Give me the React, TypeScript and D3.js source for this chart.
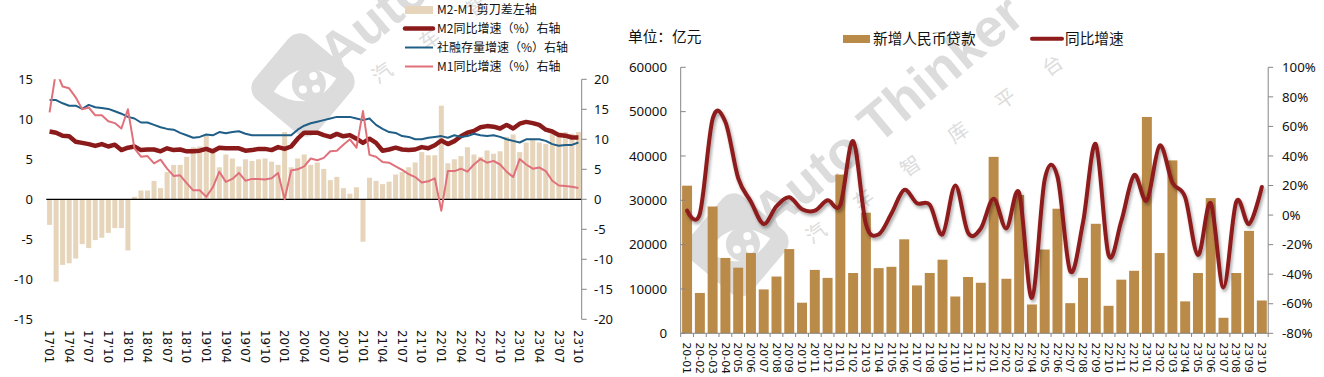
import React, { useEffect } from 'react';
import * as d3 from 'd3';

// ---------- Left chart data ----------
const leftCats = [
  "17'01","17'02","17'03","17'04","17'05","17'06","17'07","17'08","17'09","17'10","17'11","17'12",
  "18'01","18'02","18'03","18'04","18'05","18'06","18'07","18'08","18'09","18'10","18'11","18'12",
  "19'01","19'02","19'03","19'04","19'05","19'06","19'07","19'08","19'09","19'10","19'11","19'12",
  "20'01","20'02","20'03","20'04","20'05","20'06","20'07","20'08","20'09","20'10","20'11","20'12",
  "21'01","21'02","21'03","21'04","21'05","21'06","21'07","21'08","21'09","21'10","21'11","21'12",
  "22'01","22'02","22'03","22'04","22'05","22'06","22'07","22'08","22'09","22'10","22'11","22'12",
  "23'01","23'02","23'03","23'04","23'05","23'06","23'07","23'08","23'09","23'10"
];
const leftTickLabels = [
  "17'01","17'04","17'07","17'10","18'01","18'04","18'07","18'10","19'01","19'04","19'07","19'10",
  "20'01","20'04","20'07","20'10","21'01","21'04","21'07","21'10","22'01","22'04","22'07","22'10",
  "23'01","23'04","23'07","23'10"
];
// M2-M1 scissor (left axis)
const scissor = [
  -3.2,-10.3,-8.2,-8.0,-7.4,-5.6,-6.1,-5.1,-4.8,-4.2,-3.6,-3.6,
  -6.4,0.3,1.1,1.1,2.3,1.4,3.4,4.3,4.3,5.3,6.5,6.6,
  8.0,6.0,4.0,5.6,5.1,4.1,5.0,4.8,5.0,5.1,4.7,4.3,
  8.4,4.0,5.1,5.6,4.3,4.6,3.8,2.4,2.8,1.4,0.7,1.5,
  -5.3,2.7,2.3,1.9,2.2,3.1,3.4,4.0,4.6,5.9,5.5,5.5,
  11.7,4.5,5.0,5.4,6.5,5.6,5.3,6.1,5.7,6.0,7.8,8.1,
  5.9,7.1,7.6,7.1,6.9,8.2,8.4,8.4,8.2,8.4
];
// M2 yoy (right axis)
const m2Yoy = [
  11.3,11.1,10.6,10.5,9.6,9.4,9.2,8.9,9.2,8.8,9.1,8.2,
  8.6,8.8,8.2,8.3,8.3,8.0,8.5,8.2,8.3,8.0,8.0,8.1,
  8.4,8.0,8.6,8.5,8.5,8.5,8.1,8.2,8.4,8.4,8.2,8.7,
  8.4,8.8,10.1,11.1,11.1,11.1,10.7,10.4,10.9,10.5,10.7,10.1,
  9.4,10.1,9.4,8.1,8.3,8.6,8.3,8.2,8.3,8.7,8.5,9.0,
  9.8,9.2,9.7,10.5,11.1,11.4,12.0,12.2,12.1,11.8,12.4,11.8,
  12.6,12.9,12.7,12.4,11.6,11.3,10.7,10.6,10.3,10.3
];
// Social financing stock growth (drawn against the left scale as in the picture)
const tsfYoy = [
  12.4,12.4,12.0,11.7,11.7,11.3,11.8,11.5,11.4,11.3,11.0,10.7,
  10.3,10.1,9.6,9.6,9.3,9.0,8.8,8.7,8.3,8.0,7.7,7.8,
  8.1,8.0,8.4,8.25,8.4,8.5,8.2,8.0,8.0,8.0,8.0,8.0,
  8.0,8.0,8.7,9.2,9.5,9.7,9.9,10.1,10.3,10.3,10.3,10.1,
  9.9,10.1,9.3,8.8,8.4,8.3,7.9,7.8,7.5,7.5,7.7,7.8,
  7.9,7.7,8.0,7.8,7.9,8.2,8.0,7.9,8.0,7.8,7.5,7.3,
  7.1,7.5,7.5,7.5,7.3,6.9,6.7,6.8,6.8,7.1
];
// M1 yoy (right axis)
const m1Yoy = [
  14.5,21.4,18.8,18.5,17.0,15.0,15.3,14.0,14.0,13.0,12.7,11.8,
  15.0,8.5,7.1,7.2,6.0,6.6,5.1,3.9,4.0,2.7,1.5,1.5,
  0.4,2.0,4.6,2.9,3.4,4.4,3.1,3.4,3.4,3.3,3.5,4.4,
  0.0,4.8,5.0,5.5,6.8,6.5,6.9,8.0,8.1,9.1,10.0,8.6,
  14.7,7.4,7.1,6.2,6.1,5.5,4.9,4.2,3.7,2.8,3.0,3.5,
  -1.9,4.7,4.7,5.1,4.6,5.8,6.7,6.1,6.4,5.8,4.6,3.7,
  6.7,5.8,5.1,5.3,4.7,3.1,2.3,2.2,2.1,1.9
];
const leftAxisTicks = [15, 10, 5, 0, -5, -10, -15];
const rightAxisTicks = [20, 15, 10, 5, 0, -5, -10, -15, -20];
const leftLegend = ["M2-M1 剪刀差左轴", "M2同比增速（%）右轴", "社融存量增速（%）右轴", "M1同比增速（%）右轴"];

// ---------- Right chart data ----------
const loanCats = [
  "20-01","20-02","20-03","20-04","20'05","20'06","20'07","20'08","20'09","20'10","20'11","20'12",
  "21'01","21'02","21'03","21'04","21'05","21'06","21'07","21'08","21'09","21'10","21'11","21'12",
  "22'01","22'02","22'03","22'04","22'05","22'06","22'07","22'08","22'09","22'10","22'11","22'12",
  "23'01","23'02","23'03","23'04","23'05","23'06","23'07","23'08","23'09","23'10"
];
const newLoans = [
  33300, 9100, 28600, 17000, 14800, 18100, 9900, 12800, 19000, 6900, 14300, 12500,
  35800, 13600, 27200, 14700, 15000, 21200, 10800, 13600, 16600, 8300, 12700, 11400,
  39800, 12300, 31200, 6500, 18900, 28100, 6800, 12500, 24700, 6200, 12100, 14100,
  48800, 18100, 39000, 7200, 13600, 30500, 3500, 13600, 23100, 7400
];
const loanGrowth = [
  3, 1, 65, 63, 25, 9, -6, 6, 12, 4, 3, 10,
  7, 50, -6, -13, 1, 17, 8, 7, -13, 20, -12, -9,
  11, -9, 15, -56, 24, 26, -38, -5, 48, -27, -4, 27,
  10, 47, 22, 12, -27, 8, -49, 9, -6, 19
];
const loanTicks = [0, 10000, 20000, 30000, 40000, 50000, 60000];
const growthTicks = [-80, -60, -40, -20, 0, 20, 40, 60, 80, 100];

const NUM_FONT = "'Noto Sans', 'Noto Sans CJK SC', sans-serif";
const LABEL_FONT = "'DejaVu Sans', 'Noto Sans', sans-serif";
const CJK_FONT = "'Noto Sans CJK SC', 'Noto Sans', sans-serif";

const C_BAR_L = '#E6D5BA';
const C_M2 = '#8B1A1A';
const C_TSF = '#1F5E86';
const C_M1 = '#E0717B';
const C_BAR_R = '#BA8A48';
const C_LINE_R = '#8E1C1C';
const C_AXIS = '#868686';

function Watermark({ dx, dy }: { dx: number; dy: number }) {
  const cx = 737, cy = 245;
  return (
    <g transform={`translate(${dx},${dy})`} fill="#dcdcdc">
      <g transform={`translate(${cx},${cy}) rotate(40)`}>
        <rect x={-41} y={-41} width={82} height={82} rx={15} />
      </g>
      <g transform={`translate(${cx + 2},${cy}) rotate(-12)`}>
        <path d="M -32 0 Q 0 -32 32 0 Q 0 32 -32 0 Z" fill="#ffffff" />
        <circle cx={4} cy={0} r={17} fill="#dcdcdc" />
        <circle cx={-3} cy={4} r={4} fill="#ffffff" />
        <circle cx={10} cy={-7} r={4} fill="#ffffff" />
        <circle cx={10} cy={6} r={4} fill="#ffffff" />
      </g>
      <text transform="translate(772,234) rotate(-40)" fontSize={54} fontWeight="bold"
        fontFamily="'Liberation Sans', Arial, sans-serif">Auto Thinker</text>
      <text transform="translate(816,233) rotate(-35.3)" x={-10} y={7} fontSize={20}
        fontFamily={CJK_FONT} letterSpacing={38}>汽车智库平台</text>
    </g>
  );
}

export default function App() {
  useEffect(() => {
    document.body.style.margin = '0';
  }, []);

  // ----- left chart scales -----
  const lx = d3.scaleBand<string>().domain(leftCats).range([46.3, 581.7]).paddingInner(0.23).paddingOuter(0.115);
  const lyL = d3.scaleLinear().domain([-15, 15]).range([319.3, 79.3]);
  const lyR = d3.scaleLinear().domain([-20, 20]).range([319.3, 79.3]);
  const lcx = (i: number) => (lx(leftCats[i]) as number) + lx.bandwidth() / 2;

  const lineR = d3.line<number>().x((_, i) => lcx(i)).y((d) => lyR(d));
  const lineL = d3.line<number>().x((_, i) => lcx(i)).y((d) => lyL(d));

  // ----- right chart scales -----
  const rx = d3.scaleBand<string>().domain(loanCats).range([680.7, 1268.2]).paddingInner(0.22).paddingOuter(0.11);
  const ryL = d3.scaleLinear().domain([0, 60000]).range([333.3, 67.3]);
  const ryR = d3.scaleLinear().domain([-80, 100]).range([333.3, 67.3]);
  const rcx = (i: number) => (rx(loanCats[i]) as number) + rx.bandwidth() / 2;
  const growthLine = d3.line<number>().x((_, i) => rcx(i)).y((d) => ryR(d)).curve(d3.curveCardinal.tension(0));

  const leftLegendY = [10, 28.5, 47.5, 66.5];

  return (
    <svg width={1324} height={377} style={{ position: 'absolute', left: 0, top: 0, background: '#fff' }}>
      <defs>
        <clipPath id="leftClip">
          <rect x={40} y={79.3} width={545} height={240} />
        </clipPath>
        <filter id="lineShadow" x="-5%" y="-10%" width="110%" height="130%">
          <feDropShadow dx={1.5} dy={2.5} stdDeviation={1.6} floodColor="#000" floodOpacity={0.35} />
        </filter>
      </defs>

      <Watermark dx={-434} dy={-160} />
      <Watermark dx={0} dy={0} />

      {/* ================= LEFT CHART ================= */}
      {scissor.map((v, i) => (
        <rect key={'sb' + i} x={lx(leftCats[i])} width={lx.bandwidth()}
          y={Math.min(lyL(v), lyL(0))} height={Math.abs(lyL(v) - lyL(0))} fill={C_BAR_L} />
      ))}
      <line x1={46.3} x2={581.7} y1={lyL(0)} y2={lyL(0)} stroke="#000" strokeWidth={1.3} />

      <g clipPath="url(#leftClip)">
        <path d={lineR(m2Yoy) || ''} fill="none" stroke={C_M2} strokeWidth={4.5} strokeLinejoin="round" />
        <path d={lineL(tsfYoy) || ''} fill="none" stroke={C_TSF} strokeWidth={2} strokeLinejoin="round" />
        <path d={lineR(m1Yoy) || ''} fill="none" stroke={C_M1} strokeWidth={2} strokeLinejoin="round" />
      </g>

      {/* left axis labels */}
      {leftAxisTicks.map((t) => (
        <text key={'lt' + t} x={33} y={lyL(t)} dy="0.35em" textAnchor="end" fontSize={13}
          fontFamily={NUM_FONT} fill="#111">{t}</text>
      ))}
      {/* right axis */}
      <line x1={581.7} x2={581.7} y1={79.3} y2={319.3} stroke={C_AXIS} strokeWidth={1} />
      {rightAxisTicks.map((t) => (
        <g key={'rt' + t}>
          <line x1={581.7} x2={586.7} y1={lyR(t)} y2={lyR(t)} stroke={C_AXIS} strokeWidth={1} />
          <text x={594} y={lyR(t)} dy="0.35em" fontSize={13} fontFamily={NUM_FONT} fill="#111">{t}</text>
        </g>
      ))}
      {/* x labels */}
      {leftTickLabels.map((c) => {
        const x = (lx(c) as number) + lx.bandwidth() / 2;
        return (
          <text key={'lx' + c} transform={`translate(${x},330) rotate(90)`} dy="0.36em" fontSize={11.8}
            fontFamily={LABEL_FONT} fill="#111">{c}</text>
        );
      })}
      {/* legend */}
      <rect x={405} y={6} width={28} height={8} fill={C_BAR_L} />
      <line x1={405} x2={433} y1={leftLegendY[1]} y2={leftLegendY[1]} stroke={C_M2} strokeWidth={4.5} strokeLinecap="round" />
      <line x1={405} x2={433} y1={leftLegendY[2]} y2={leftLegendY[2]} stroke={C_TSF} strokeWidth={2} />
      <line x1={405} x2={433} y1={leftLegendY[3]} y2={leftLegendY[3]} stroke={C_M1} strokeWidth={2} />
      {leftLegend.map((s, i) => (
        <text key={'lg' + i} x={437} y={leftLegendY[i]} dy="0.35em" fontSize={12} fontFamily={CJK_FONT} fill="#111">{s}</text>
      ))}

      {/* ================= RIGHT CHART ================= */}
      <text x={628} y={37} dy="0.35em" fontSize={14.67} fontFamily={CJK_FONT} fill="#111">单位：亿元</text>
      <rect x={843} y={35} width={27} height={8} fill={C_BAR_R} />
      <text x={873} y={39} dy="0.35em" fontSize={14.67} fontFamily={CJK_FONT} fill="#111">新增人民币贷款</text>
      <line x1={1032} x2={1062} y1={38.7} y2={38.7} stroke={C_LINE_R} strokeWidth={4} strokeLinecap="round" />
      <text x={1065} y={39} dy="0.35em" fontSize={14.67} fontFamily={CJK_FONT} fill="#111">同比增速</text>

      {newLoans.map((v, i) => (
        <rect key={'rb' + i} x={rx(loanCats[i])} width={rx.bandwidth()} y={ryL(v)}
          height={ryL(0) - ryL(v)} fill={C_BAR_R} />
      ))}

      {/* axes */}
      <line x1={680.7} x2={680.7} y1={67.3} y2={333.3} stroke={C_AXIS} strokeWidth={1} />
      {loanTicks.map((t) => (
        <g key={'ly' + t}>
          <line x1={680.7} x2={685.7} y1={ryL(t)} y2={ryL(t)} stroke={C_AXIS} strokeWidth={1} />
          <text x={667} y={ryL(t)} dy="0.35em" textAnchor="end" fontSize={13.3} fontFamily={NUM_FONT} fill="#111">{t}</text>
        </g>
      ))}
      <line x1={1268.2} x2={1268.2} y1={67.3} y2={333.3} stroke={C_AXIS} strokeWidth={1} />
      {growthTicks.map((t) => (
        <g key={'gy' + t}>
          <line x1={1268.2} x2={1273.2} y1={ryR(t)} y2={ryR(t)} stroke={C_AXIS} strokeWidth={1} />
          <text x={1282} y={ryR(t)} dy="0.35em" fontSize={13.3} fontFamily={NUM_FONT} fill="#111">{t}%</text>
        </g>
      ))}
      <line x1={680.7} x2={1268.2} y1={333.3} y2={333.3} stroke={C_AXIS} strokeWidth={1} />
      {loanCats.map((c, i) => {
        const x0 = (rx(c) as number) - (rx.step() * rx.paddingInner()) / 2;
        return <line key={'xt' + i} x1={x0} x2={x0} y1={333.3} y2={337} stroke={C_AXIS} strokeWidth={1} />;
      })}
      <line x1={1268.2} x2={1268.2} y1={333.3} y2={337} stroke={C_AXIS} strokeWidth={1} />

      <path d={growthLine(loanGrowth) || ''} fill="none" stroke={C_LINE_R} strokeWidth={4}
        strokeLinejoin="round" strokeLinecap="round" filter="url(#lineShadow)" />

      {loanCats.map((c, i) => (
        <text key={'rx' + c} transform={`translate(${rcx(i)},342.5) rotate(90)`} dy="0.36em" fontSize={10.8}
          fontFamily={LABEL_FONT} fill="#111">{c}</text>
      ))}
    </svg>
  );
}
